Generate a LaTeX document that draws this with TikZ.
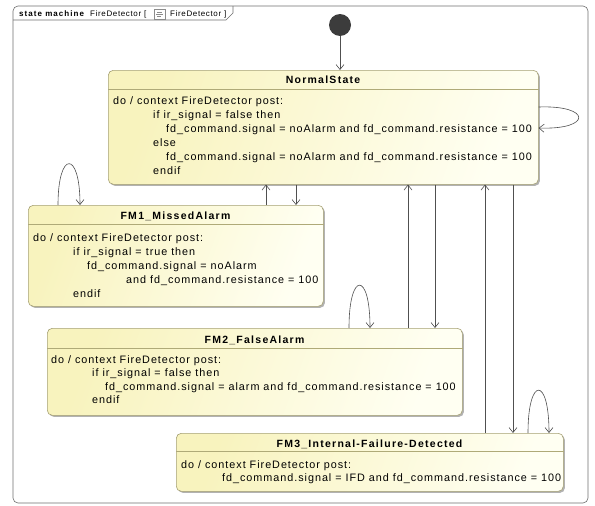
\documentclass[tikz,border=0pt]{standalone}
\usepackage{fontspec}
\setmainfont{Liberation Sans}
\newfontfamily\bodyf[LetterSpace=9]{Liberation Sans}
\newfontfamily\titlef[LetterSpace=12]{Liberation Sans}
\newfontfamily\tabf[LetterSpace=8]{Liberation Sans}
\newfontfamily\tabbf[LetterSpace=13]{Liberation Sans}
\usetikzlibrary{arrows.meta,shadows,calc}
\definecolor{stateborder}{RGB}{165,160,115}
\definecolor{sepline}{RGB}{175,170,120}
\definecolor{fillA}{RGB}{248,243,190}
\definecolor{fillB}{RGB}{255,255,242}
\definecolor{linec}{RGB}{80,80,80}
\definecolor{initc}{RGB}{60,60,60}
\definecolor{framec}{RGB}{110,110,110}
\tikzset{
  statebox/.style={draw=stateborder, line width=0.6pt, rounded corners=5pt,
    left color=fillA, right color=fillB, shading angle=70,
    drop shadow={shadow xshift=1.6pt, shadow yshift=-1.6pt, fill=black!30, opacity=1},
    inner sep=0pt, anchor=north west},
  sepl/.style={draw=sepline, line width=0.6pt},
  titletxt/.style={font=\titlef\bfseries\fontsize{10.5}{13}\selectfont, anchor=base, inner sep=0pt},
  bodytxt/.style={font=\bodyf\fontsize{10.8}{14}\selectfont, align=left, anchor=north west, inner sep=0pt},
  trans/.style={draw=linec, line width=0.6pt, -{Straight Barb[length=5pt,width=8pt]}},
}
\begin{document}
\begin{tikzpicture}[x=1pt,y=-1pt]
\useasboundingbox (0,0) rectangle (595,506);
% frame
\draw[framec, line width=0.6pt, rounded corners=5pt] (13,6) rectangle (588,503);
\draw[framec, line width=0.6pt] (13,20) -- (226,20) -- (233,13) -- (233,6);
\node[anchor=base west, inner sep=0pt, font=\tabbf\bfseries\fontsize{8}{10}\selectfont] (tabA) at (19,16.5) {state machine};
\node[anchor=base west, inner sep=0pt, font=\tabf\fontsize{8}{10}\selectfont] (tabB) at (90,16.5) {FireDetector [};
\node[anchor=base west, inner sep=0pt, font=\tabf\fontsize{8}{10}\selectfont] (tabC) at (170,16.5) {FireDetector ]};
\draw[black!45, line width=0.4pt, fill=white] (154,9) rectangle (165,19);
\draw[black!45, line width=0.5pt] (157,12) -- (162,12) (156,14) -- (163,14) (157,16.5) -- (161,16.5);

% states
\node[statebox, minimum width=430pt, minimum height=114pt] (normal) at (108,70) {};
\draw[sepl] (normal.west |- 0,89) -- (normal.east |- 0,89);
\node[titletxt] (normalT) at (323,83.5) {NormalState};
\node[bodytxt] (normalB) at (113,96.5) {do / context FireDetector post:\\
\hspace*{40pt}if ir\_signal = false then\\
\hspace*{53pt}fd\_command.signal = noAlarm and fd\_command.resistance = 100\\
\hspace*{40pt}else\\
\hspace*{53pt}fd\_command.signal = noAlarm and fd\_command.resistance = 100\\
\hspace*{40pt}endif};

\node[statebox, minimum width=295pt, minimum height=101pt] (fm1) at (28,205) {};
\draw[sepl] (fm1.west |- 0,224) -- (fm1.east |- 0,224);
\node[titletxt] (fm1T) at (175.5,219) {FM1\_MissedAlarm};
\node[bodytxt] (fm1B) at (33,233.5) {do / context FireDetector post:\\
\hspace*{40pt}if ir\_signal = true then\\
\hspace*{54pt}fd\_command.signal = noAlarm\\
\hspace*{93pt}and fd\_command.resistance = 100\\
\hspace*{40pt}endif};

\node[statebox, minimum width=415pt, minimum height=87pt] (fm2) at (47,328) {};
\draw[sepl] (fm2.west |- 0,348) -- (fm2.east |- 0,348);
\node[titletxt] (fm2T) at (254.5,343) {FM2\_FalseAlarm};
\node[bodytxt, font=\bodyf\fontsize{10.8}{13.4}\selectfont] (fm2B) at (51,355.5) {do / context FireDetector post:\\
\hspace*{41pt}if ir\_signal = false then\\
\hspace*{54pt}fd\_command.signal = alarm and fd\_command.resistance = 100\\
\hspace*{41pt}endif};

\node[statebox, minimum width=387pt, minimum height=58pt] (fm3) at (176,433) {};
\draw[sepl] (fm3.west |- 0,451) -- (fm3.east |- 0,451);
\node[titletxt] (fm3T) at (369.5,447) {FM3\_Internal-Failure-Detected};
\node[bodytxt, font=\bodyf\fontsize{10.8}{13.4}\selectfont] (fm3B) at (181,460.5) {do / context FireDetector post:\\
\hspace*{41pt}fd\_command.signal = IFD and fd\_command.resistance = 100};

% initial
\node[circle, fill=initc, minimum size=22pt, inner sep=0pt] (init) at (340,25) {};
\draw[trans] (init.south) -- (init.south |- normal.north);

% self loops
\draw[trans] (normal.east |- 0,107) .. controls (592,105) and (592,130) .. (normal.east |- 0,128);
\draw[trans] (58,0 |- fm1.north) .. controls (58,150) and (80,150) .. (80,0 |- fm1.north);
\draw[trans] (349,0 |- fm2.north) .. controls (349,271) and (370,271) .. (370,0 |- fm2.north);
\draw[trans] (528,0 |- fm3.north) .. controls (528,376) and (549,376) .. (549,0 |- fm3.north);

% transitions
\draw[trans] (266,0 |- fm1.north) -- (266,0 |- normal.south);
\draw[trans] (296,0 |- normal.south) -- (296,0 |- fm1.north);
\draw[trans] (408,0 |- fm2.north) -- (408,0 |- normal.south);
\draw[trans] (435,0 |- normal.south) -- (435,0 |- fm2.north);
\draw[trans] (485,0 |- fm3.north) -- (485,0 |- normal.south);
\draw[trans] (513,0 |- normal.south) -- (513,0 |- fm3.north);
\end{tikzpicture}
\end{document}
